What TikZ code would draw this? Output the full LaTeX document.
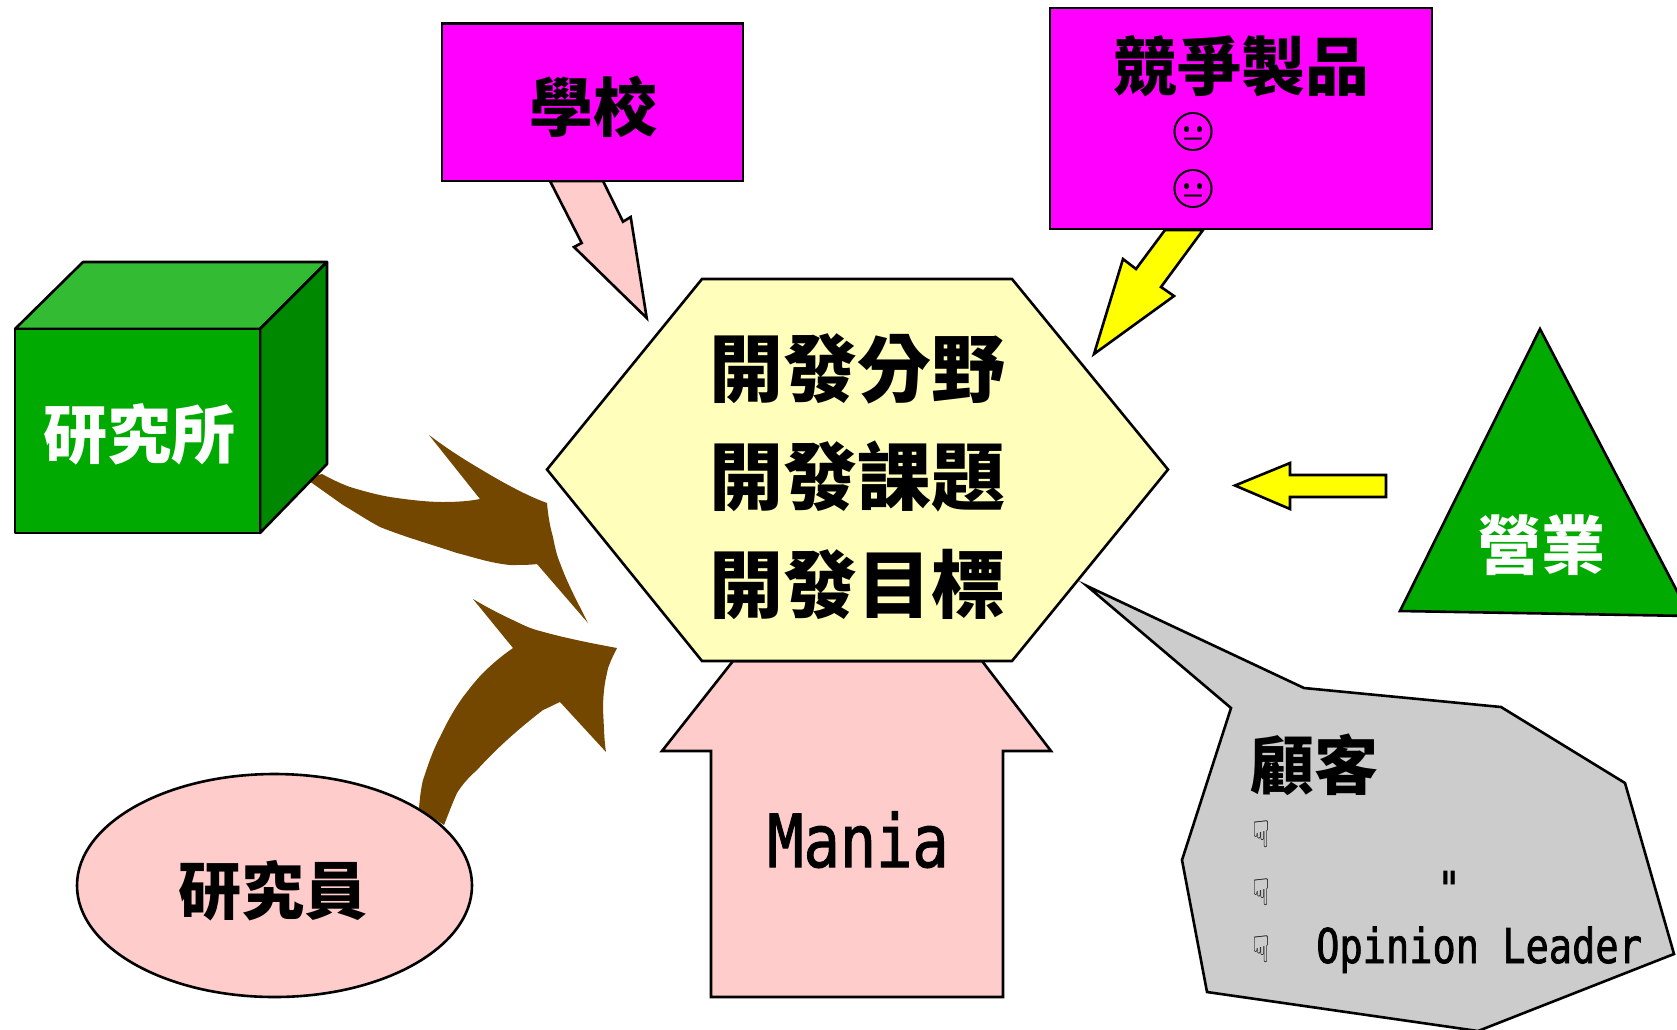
\documentclass[tikz,border=0pt]{standalone}
\usepackage{fontspec}
\newfontfamily\cjk{Noto Sans CJK TC}
\newfontfamily\monof[FakeStretch=0.825,FakeBold=1.5]{DejaVu Sans Mono}
\newfontfamily\monosmall[FakeStretch=0.805,FakeBold=1.5]{DejaVu Sans Mono}
\newfontfamily\handf[FakeStretch=0.8]{DejaVu Sans}
\newfontfamily\emojif[FakeBold=1]{Noto Emoji}
\definecolor{hexfill}{HTML}{FFFFBB}
\definecolor{pinkfill}{HTML}{FFCCCC}
\definecolor{magentafill}{HTML}{FF00FF}
\definecolor{yellowfill}{HTML}{FFFF00}
\definecolor{grayfill}{HTML}{CCCCCC}
\definecolor{brownfill}{HTML}{734700}
\definecolor{greenfront}{HTML}{00AA00}
\definecolor{greentop}{HTML}{33BB33}
\definecolor{greenside}{HTML}{008800}
\tikzset{
  outline/.style={draw=black,line width=2.6pt,line join=miter},
  cubeface/.style={draw=black,line width=2.6pt,line join=round},
  cjktext/.style={inner sep=0pt,font=\cjk\bfseries\fontsize{#1}{#1}\selectfont},
  monotext/.style={inner sep=0pt,font=\monof\fontsize{#1}{#1}\selectfont},
  monosmalltext/.style={inner sep=0pt,font=\monosmall\fontsize{#1}{#1}\selectfont},
  handmark/.style={inner sep=0pt,font=\handf\fontsize{37}{37}\selectfont},
  facemark/.style={inner sep=0pt,font=\emojif\fontsize{38}{38}\selectfont}
}
\begin{document}
\begin{tikzpicture}[x=1pt,y=-1pt]
\useasboundingbox (0,0) rectangle (1677,1029);
\fill[white] (0,0) rectangle (1677,1029);
% brown curved arrows
\fill[brownfill] (306,478) -- (322,474) .. controls (335,481) and (342,484) .. (350,487)
  .. controls (363,491) and (378,495) .. (390,497) .. controls (410,500) and (428,502) .. (443,502)
  .. controls (458,502) and (470,501) .. (480,499) -- (429,435)
  .. controls (445,447) and (460,457) .. (477,467) .. controls (500,481) and (525,495) .. (547,503)
  .. controls (548,515) and (550,527) .. (553,537) .. controls (555,548) and (557,556) .. (560,563)
  .. controls (568,585) and (578,603) .. (588,623) -- (537,564)
  .. controls (530,565) and (520,565) .. (510,565) .. controls (490,563) and (473,557) .. (457,553)
  .. controls (430,544) and (405,537) .. (380,527) .. controls (367,520) and (355,512) .. (343,505) -- (312,483) -- cycle;
\fill[brownfill] (419,808) .. controls (420,797) and (421,788) .. (423,780)
  .. controls (428,765) and (433,750) .. (440,737) .. controls (447,722) and (455,708) .. (463,697)
  .. controls (470,688) and (476,680) .. (483,673) .. controls (493,663) and (503,655) .. (513,648)
  -- (473,599) .. controls (488,608) and (502,615) .. (517,622) .. controls (525,626) and (532,629) .. (540,631)
  .. controls (565,638) and (590,643) .. (617,648) .. controls (612,658) and (608,666) .. (607,673)
  .. controls (604,685) and (603,698) .. (603,710) .. controls (604,725) and (604,740) .. (606,752)
  -- (560,702) .. controls (553,705) and (548,708) .. (543,710) .. controls (530,720) and (518,730) .. (507,740)
  .. controls (496,750) and (486,760) .. (477,770) .. controls (468,778) and (462,785) .. (457,793)
  .. controls (452,804) and (448,815) .. (444,825) -- cycle;
% small arrows
\draw[outline,fill=pinkfill] (550,181) -- (581.7,243) -- (574,247) -- (646.7,318) -- (630.7,217) -- (623,221.7) -- (603,181) -- cycle;
\draw[outline,fill=yellowfill] (1165,230) -- (1136,269) -- (1123,259) -- (1094,354) -- (1174,296) -- (1161,287) -- (1203,230) -- cycle;
\draw[outline,fill=yellowfill] (1235,485.5) -- (1290,463) -- (1290,475) -- (1386,475) -- (1386,497) -- (1290,497) -- (1290,509) -- cycle;
% big pink arrow
\draw[outline,fill=pinkfill] (733,661) -- (662,751) -- (711,751) -- (711,997) -- (1003,997) -- (1003,751) -- (1051,751) -- (982,661) -- cycle;
% hexagon
\draw[outline,fill=hexfill] (547,469.5) -- (702,279) -- (1012,279) -- (1168,469.5) -- (1012,661) -- (702,661) -- cycle;
% boxes
\draw[outline,fill=magentafill] (442,23.5) rectangle (743,181);
\draw[outline,fill=magentafill] (1050,8) rectangle (1432,229);
% cube
\draw[cubeface,fill=greentop] (15,329) -- (83,262) -- (327,262) -- (260,329) -- cycle;
\draw[cubeface,fill=greenside] (260,329) -- (327,262) -- (327,464) -- (260,533) -- cycle;
\draw[cubeface,fill=greenfront] (15,329) rectangle (260,533);
% triangle
\draw[outline,fill=greenfront] (1540,329) -- (1400,611) -- (1690,616) -- cycle;
% callout
\draw[outline,fill=grayfill] (1087,586) -- (1304,688) -- (1501,707) -- (1625,783) -- (1674,954) -- (1478,1031) -- (1207,992) -- (1182,860) -- (1231,708) -- cycle;
% ellipse
\draw[outline,fill=pinkfill] (274.5,885.5) ellipse [x radius=197.5,y radius=111.5];
% texts
\node[cjktext=64] (school) at (593,107) {學校};
\node[cjktext=64] (rival) at (1241,66) {競爭製品};
\node[facemark] (faceA) at (1193,131.5) {\symbol{"1F610}};
\node[facemark] (faceB) at (1193,188.5) {\symbol{"1F610}};
\node[cjktext=74] (lineA) at (857,369) {開發分野};
\node[cjktext=74] (lineB) at (857,476) {開發課題};
\node[cjktext=74] (lineC) at (857,584) {開發目標};
\node[cjktext=64,text=white] (lab) at (139,434) {研究所};
\node[cjktext=64,text=white] (sales) at (1541,545) {營業};
\node[cjktext=63] (staff) at (273,891) {研究員};
\node[monotext=73,anchor=base] (mania) at (858,867) {Mania};
\node[cjktext=64,anchor=west] (client) at (1250,765) {顧客};
\node[handmark] (handA) at (1261,834) {\symbol{"261F}};
\node[handmark] (handB) at (1261,892) {\symbol{"261F}};
\node[handmark] (handC) at (1261,949) {\symbol{"261F}};
\node[monosmalltext=48,anchor=base] (quote) at (1449,906) {"};
\node[monosmalltext=48,anchor=base west] (opinion) at (1316,963) {Opinion Leader};
\end{tikzpicture}
\end{document}
